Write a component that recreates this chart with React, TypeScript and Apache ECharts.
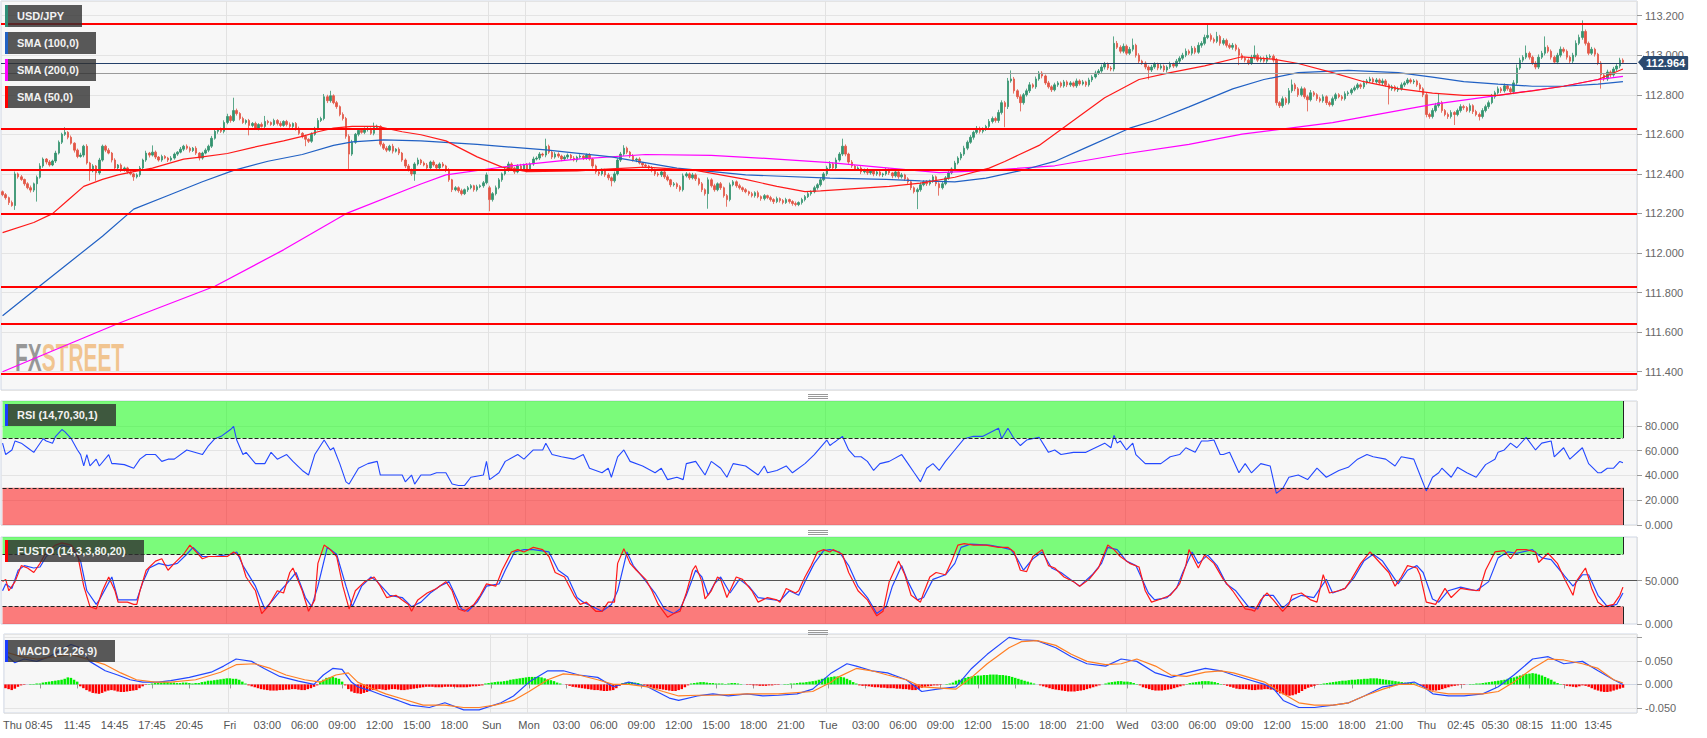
import React, { useEffect, useRef } from "react";
import * as echarts from "echarts";

// ================= DATA =================
// 15-minute candles, prices stored as 0.001 JPY above 112.000
const SLOT_COUNT = 524;
const PRICE_BASE = 112;
const FIRST_OPEN = 310;
const GAP_OPENS = [[156, 330]]; // Sunday re-open
const CLOSES = [
  295,280,255,240,400,385,372,350,330,318,350,383,440,475,460,445,465,505,560,600,
  610,585,555,520,488,495,540,455,415,440,405,470,540,520,505,470,430,445,420,430,
  410,400,385,395,430,470,505,495,510,485,470,488,480,470,480,500,510,525,540,530,
  518,530,505,480,505,520,540,580,615,625,615,660,690,670,720,705,680,660,670,645,
  655,630,650,640,665,660,650,670,655,645,665,650,640,655,630,605,590,575,565,600,
  630,670,680,790,770,795,760,740,700,680,590,500,560,600,620,610,625,630,605,635,
  640,550,530,520,540,515,525,505,470,440,420,400,450,470,455,445,430,460,445,430,
  450,440,420,370,320,330,315,300,320,330,340,320,335,340,355,395,270,300,330,370,
  400,420,450,430,410,440,425,445,420,450,475,480,500,495,540,510,485,500,490,475,
  485,495,480,470,485,490,480,495,475,440,410,400,420,395,380,365,400,470,500,530,
  510,490,470,475,455,445,440,430,420,400,395,410,385,370,345,350,335,320,390,400,
  380,395,375,350,320,300,370,340,320,350,330,290,270,345,360,340,330,320,310,300,
  290,305,285,275,290,280,270,260,275,265,255,270,260,250,245,255,270,285,300,310,
  330,345,370,400,430,450,430,470,500,540,500,460,440,425,430,410,420,405,415,400,
  410,395,400,420,405,390,410,385,395,375,360,330,310,320,345,360,350,365,385,350,
  330,350,380,405,425,455,480,500,530,560,585,610,630,615,625,640,665,680,670,710,
  760,740,870,880,820,790,760,800,820,850,840,880,910,895,860,840,825,850,860,845,
  865,850,860,845,870,855,865,850,875,890,910,920,940,955,935,930,1060,1040,1020,1045,
  1010,1030,1050,1000,970,960,940,925,940,955,935,945,925,940,955,945,970,985,1000,1020,
  1010,1035,1015,1050,1060,1090,1100,1080,1070,1095,1060,1075,1050,1040,1050,1030,1000,985,975,960,
  990,1000,975,985,970,990,995,975,760,745,780,760,820,850,830,800,830,790,775,810,
  800,780,770,790,760,750,780,800,790,780,805,810,825,835,850,840,860,870,880,865,
  875,860,870,850,830,840,825,830,850,860,875,865,870,850,830,800,700,690,720,745,
  760,720,700,690,710,700,720,740,735,720,745,715,700,690,720,740,760,790,810,830,
  820,845,830,815,860,935,975,990,1010,990,960,940,990,1010,1040,1020,990,965,1000,1030,
  1020,990,970,1000,1060,1090,1120,1060,1010,1030,1005,960,900,880,915,900,930,945,975,964,
];
const WICK_HI = [
  6,8,5,10,12,7,9,4,8,11,6,9,14,8,5,10,7,12,9,8,
  26,6,9,5,8,12,7,10,6,9,5,11,8,7,10,6,9,5,8,7,
  6,9,5,8,10,7,12,6,34,8,5,9,7,6,10,8,5,11,7,9,
  8,6,10,5,7,9,8,12,10,7,9,11,14,8,65,10,7,9,6,8,
  7,9,6,10,28,8,5,9,7,11,6,8,10,5,7,9,6,8,5,10,
  8,12,9,14,10,25,7,9,6,11,8,10,12,7,9,6,10,8,5,24,
  9,6,8,10,7,12,5,9,6,8,10,7,9,12,6,8,10,7,9,5,
  8,10,6,9,5,8,7,10,6,9,8,5,10,7,9,12,10,8,11,9,
  7,10,12,8,6,9,11,7,10,8,12,9,10,7,38,8,6,10,9,7,
  9,8,6,10,7,9,5,8,10,6,7,9,8,6,10,7,12,9,11,15,
  8,6,10,7,9,5,8,6,10,7,9,8,6,10,5,9,7,8,12,9,
  7,10,8,6,9,7,12,8,10,7,9,6,8,11,9,7,10,6,8,5,
  9,7,10,6,8,5,9,7,10,6,8,9,5,7,10,6,9,8,11,7,
  10,8,12,9,11,14,8,12,10,38,9,7,10,6,8,9,7,10,6,8,
  7,9,6,10,8,5,9,7,10,6,8,9,7,10,12,8,9,6,10,7,
  8,10,9,12,8,11,9,10,12,9,11,8,12,9,10,8,12,10,9,14,
  12,9,15,43,10,8,12,9,11,14,8,12,10,9,7,10,8,11,9,7,
  10,8,9,7,12,8,10,6,11,9,12,10,13,11,8,10,35,12,10,14,
  9,12,34,8,10,7,9,8,11,9,7,10,8,9,12,8,11,10,12,14,
  9,12,10,15,11,14,53,10,9,23,8,11,9,10,12,8,9,10,7,9,
  12,49,9,10,8,12,10,9,11,8,12,9,14,27,10,9,12,8,10,14,
  9,8,10,12,7,9,11,10,8,9,12,10,9,11,10,8,12,10,11,8,
  10,8,12,9,7,10,8,11,12,9,10,8,9,7,10,8,11,9,12,14,
  48,9,8,10,12,7,10,12,9,8,11,7,9,10,12,10,11,14,10,12,
  9,12,8,10,14,18,12,10,39,9,8,10,14,12,55,10,9,8,12,14,
  10,9,8,12,15,14,56,10,9,12,8,7,10,9,12,8,11,10,12,9,
];
const WICK_LO = [
  8,10,12,6,22,9,7,10,8,12,10,90,7,9,12,8,6,10,7,9,
  8,10,7,12,9,6,11,8,50,7,40,9,8,10,6,12,9,7,10,8,
  9,7,20,8,10,6,9,12,7,10,8,9,6,10,7,8,9,6,10,8,
  10,7,9,12,8,6,10,9,7,12,8,10,9,11,8,10,9,7,10,50,
  9,8,10,6,9,11,7,8,10,9,7,10,8,9,11,8,10,35,9,8,
  7,10,8,9,12,10,8,11,9,10,12,75,9,8,10,7,9,11,8,10,
  8,11,9,10,8,12,7,10,9,11,8,10,35,8,10,7,9,12,8,10,
  9,8,11,10,12,8,10,9,7,11,8,10,9,7,10,8,59,10,9,8,
  10,8,9,11,10,7,9,10,12,8,9,7,10,8,11,9,10,8,9,11,
  8,10,9,7,11,8,10,9,8,12,10,11,9,10,12,28,9,8,10,9,
  10,9,8,11,7,10,9,8,12,10,9,11,10,8,12,9,11,10,9,8,
  10,8,11,9,12,10,76,9,10,8,11,10,36,9,8,10,9,11,8,10,
  9,10,8,11,9,8,10,12,8,10,9,7,10,11,9,8,10,9,7,10,
  8,10,9,7,10,8,12,9,8,10,11,9,10,8,9,11,8,10,9,12,
  10,8,11,9,10,12,8,10,9,11,10,12,9,88,10,8,11,9,10,12,
  40,9,8,10,7,9,8,11,9,10,8,12,9,11,10,8,9,10,11,12,
  10,104,12,9,14,11,44,10,9,11,8,10,9,12,10,9,11,8,10,9,
  9,11,10,8,10,9,8,10,9,11,8,10,9,12,10,11,12,9,11,10,
  10,9,11,12,10,9,11,48,10,9,11,8,10,12,9,10,8,11,9,10,
  9,11,10,8,12,10,9,11,10,9,12,10,11,9,12,10,50,9,11,10,
  9,12,10,11,8,10,9,12,14,12,10,11,9,10,12,11,9,10,59,9,
  10,11,9,10,12,10,9,11,8,10,9,11,10,8,9,11,10,8,9,10,
  9,10,11,9,79,10,8,11,9,10,8,9,11,10,9,12,14,11,10,9,
  10,11,9,12,10,53,9,10,11,8,10,12,9,20,10,9,11,8,10,9,
  11,9,10,8,12,10,9,11,10,12,9,11,10,9,11,10,12,9,10,11,
  10,12,9,11,10,9,12,11,10,9,12,10,69,11,10,12,9,10,11,8,
];

// Moving averages, [candle index, price]
const SMA50 = [[0,112.103],[10,112.154],[16,112.199],[21,112.268],[26,112.337],[32,112.372],[37,112.395],[42,112.411],[48,112.429],[53,112.452],[58,112.475],[64,112.486],[72,112.503],[80,112.533],[90,112.567],[96,112.59],[101,112.613],[106,112.631],[112,112.64],[120,112.64],[128,112.613],[134,112.598],[142,112.567],[152,112.486],[160,112.434],[168,112.411],[184,112.415],[195,112.425],[206,112.434],[222,112.418],[238,112.372],[248,112.337],[257,112.31],[262,112.314],[273,112.326],[284,112.337],[294,112.353],[305,112.383],[316,112.429],[321,112.463],[332,112.544],[342,112.659],[353,112.785],[364,112.877],[374,112.912],[385,112.946],[397,112.992],[407,112.98],[415,112.958],[426,112.912],[436,112.866],[447,112.831],[458,112.808],[468,112.797],[479,112.797],[490,112.82],[500,112.843],[511,112.877],[519,112.93]];
const SMA100 = [[0,111.683],[10,111.809],[21,111.947],[32,112.085],[42,112.222],[53,112.291],[64,112.36],[74,112.418],[85,112.464],[96,112.498],[106,112.544],[112,112.562],[122,112.572],[134,112.567],[152,112.549],[174,112.521],[195,112.486],[216,112.429],[238,112.395],[265,112.379],[283,112.372],[294,112.365],[305,112.36],[315,112.379],[326,112.416],[337,112.463],[347,112.533],[361,112.631],[369,112.67],[380,112.739],[394,112.83],[404,112.877],[415,112.912],[431,112.923],[447,112.912],[458,112.889],[468,112.866],[479,112.854],[490,112.843],[500,112.843],[511,112.854],[519,112.866]];
const SMA200 = [[0,111.4],[37,111.644],[68,111.832],[90,112.016],[110,112.199],[134,112.349],[142,112.395],[163,112.441],[184,112.475],[206,112.498],[227,112.494],[248,112.475],[265,112.457],[284,112.429],[300,112.406],[316,112.418],[337,112.441],[358,112.498],[380,112.549],[397,112.601],[426,112.659],[458,112.751],[479,112.797],[500,112.843],[511,112.877],[519,112.893]];

const LEVELS = [113.16, 112.632, 112.416, 112.2, 111.828, 111.642, 111.39];
const PREV_CLOSE = 112.905;

// RSI (14), [index, value]
const RSI = [[0,66],[1,56.8],[3,60.5],[4,67.8],[6,66],[8,62.3],[10,58.6],[11,62.3],[13,69.6],[14,67.8],[16,66],[17,71.5],[19,77],[20,75.1],[22,69.6],[24,60.5],[25,56.8],[26,47.6],[27,56.8],[28,47.6],[30,53.1],[31,47.6],[34,56.8],[35,49.5],[36,49.5],[39,48.7],[42,45.8],[44,53.1],[46,56.8],[49,56.8],[51,51.3],[53,53.1],[55,53.1],[59,60.5],[64,56.8],[66,64.1],[68,69.6],[70,71.5],[73,77],[74,79.5],[75,68.5],[77,56.8],[78,58.6],[81,49.5],[84,49.5],[86,58.6],[88,53.1],[91,56.8],[93,51.3],[96,44],[98,40.3],[100,56.8],[103,68.5],[105,60.5],[106,62.3],[108,49.5],[110,34.8],[111,33],[114,45.8],[117,49.5],[120,51.3],[121,40.3],[123,40.3],[128,40.3],[129,34.8],[131,40.3],[132,33],[134,40.3],[137,40.3],[139,42.1],[142,42.1],[144,33],[146,31.9],[148,31.9],[150,38.5],[154,40.3],[155,51.3],[156,36.6],[159,42.1],[161,51.3],[165,56.8],[167,53.1],[170,60.5],[173,60.5],[174,66],[176,56.8],[179,55],[183,53.1],[186,56.8],[188,45.8],[192,42.1],[194,45.8],[195,38.5],[197,55],[199,60.5],[201,51.3],[205,47.6],[209,42.1],[211,45.8],[213,36.6],[216,38.5],[218,36.6],[219,49.5],[222,51.3],[225,40.3],[227,51.3],[230,45.8],[232,38.5],[234,49.5],[238,47.6],[242,40.3],[244,47.6],[245,42.1],[248,44],[251,47.6],[253,42.1],[257,49.5],[260,56.8],[264,68.5],[265,64.1],[266,66],[267,67.8],[269,71.5],[271,60.5],[273,55],[275,55],[277,51.3],[279,44],[281,49.5],[284,51.3],[288,56.8],[290,49.5],[292,42.1],[294,34.8],[296,45.8],[298,49.5],[300,44],[302,51.3],[305,60.5],[308,69.6],[311,71.5],[314,71.5],[319,78.1],[320,69.6],[322,78.1],[324,69.6],[326,64.1],[328,68.5],[332,70.7],[335,58.6],[337,60.5],[339,56.8],[343,58.6],[347,58.6],[353,66],[355,62.3],[356,72.2],[357,66],[358,67.8],[360,60.5],[362,66],[363,56.8],[366,49.5],[371,49.5],[374,55],[377,56.8],[379,62.3],[382,58.6],[384,67.8],[386,67.8],[388,68.5],[390,56.8],[391,56.8],[393,58.6],[396,42.1],[398,49.5],[400,42.1],[403,49.5],[406,47.6],[408,25.6],[410,29.3],[412,38.5],[415,40.3],[418,36.6],[421,45.8],[424,38.5],[428,44],[431,46.5],[434,53.1],[437,56.8],[439,55],[443,53.1],[446,47.6],[448,55],[452,53.1],[454,40.3],[456,27.5],[458,38.5],[460,42.1],[461,45.8],[464,38.5],[466,46.5],[469,42.1],[472,38.5],[475,48.7],[478,53.1],[479,58.6],[481,60.5],[483,66],[485,62.3],[488,70.7],[491,60.5],[493,66],[496,67.8],[497,55],[500,62.3],[502,53.1],[506,62.3],[508,49.5],[511,42.1],[512,42.1],[514,45.8],[516,45.8],[518,51.3],[519,50.2]];

// Full stochastic: %K (red) and %D (blue)
const STOCH_K = [[0,48.7],[1,51.3],[2,38.2],[4,48.7],[6,67.1],[8,64.4],[10,59.2],[12,69.7],[14,82.8],[17,90.7],[19,93.3],[22,90.7],[24,80.2],[26,43.5],[28,19.9],[30,17.3],[32,38.2],[34,54],[36,38.2],[37,25.1],[40,25.1],[42,22.5],[43,22.5],[44,38.2],[46,61.8],[49,72.3],[51,75],[53,61.8],[55,69.7],[58,80.2],[60,90.7],[62,82.8],[64,75],[66,77.6],[69,77.6],[72,77.6],[74,82.8],[76,77.6],[78,54],[81,38.2],[83,12],[85,19.9],[88,38.2],[90,35.6],[92,59.2],[93,64.4],[96,38.2],[98,14.6],[100,27.7],[101,69.7],[103,90.7],[105,85.5],[107,77.6],[109,43.5],[111,17.3],[113,38.2],[116,48.7],[119,54],[121,43.5],[123,30.4],[126,33],[128,27.7],[130,22.5],[131,14.6],[133,27.7],[136,35.6],[139,40.9],[142,48.7],[144,38.2],[146,17.3],[148,14.6],[151,22.5],[153,33],[155,46.1],[158,43.5],[160,61.8],[163,82.8],[165,85.5],[167,82.8],[170,88.1],[173,85.5],[175,77.6],[177,59.2],[180,54],[183,33],[185,22.5],[187,25.1],[190,14.6],[192,14.6],[194,25.1],[196,25.1],[197,69.7],[199,86.5],[201,69.7],[203,61.8],[206,51.3],[208,38.2],[210,22.5],[213,7.8],[215,12],[217,14.6],[219,35.6],[221,61.8],[222,67.1],[224,48.7],[225,28.8],[227,38.2],[229,54],[230,51.3],[232,30.4],[235,54],[237,51.3],[240,38.2],[242,25.1],[245,30.4],[248,27.7],[249,25.1],[251,40.9],[254,35.6],[255,38.2],[257,54],[259,67.1],[261,82.8],[263,85.5],[265,82.8],[266,85.5],[269,80.2],[271,59.2],[274,38.2],[277,27.7],[280,9.4],[282,14.6],[284,48.7],[287,72.3],[289,56.6],[291,33],[294,25.1],[295,35.6],[297,54],[299,59.2],[302,56.6],[304,72.3],[306,90.7],[308,92.3],[311,90.7],[315,90.7],[319,88.1],[322,88.1],[324,82.8],[326,61.8],[328,60.2],[330,77.6],[333,85.5],[335,67.1],[337,64.4],[340,54],[343,48.7],[345,43.5],[348,51.3],[351,64.4],[354,90.7],[356,85.5],[358,77.6],[361,69.7],[364,65.5],[366,38.2],[368,25.1],[371,28.8],[374,33],[377,46.1],[379,67.1],[380,85.5],[383,64.4],[385,79.2],[388,69.7],[391,51.3],[394,38.2],[398,17.3],[400,16.2],[401,14.6],[403,27.7],[405,35.6],[407,27.7],[410,14.6],[412,22.5],[413,33],[416,35.6],[419,27.7],[421,25.1],[423,56.6],[425,35.6],[428,38.2],[430,40.9],[432,51.3],[435,69.7],[438,82.8],[440,75],[444,59.2],[446,43.5],[448,54],[450,67.1],[453,64.4],[454,56.6],[456,25.1],[459,22.5],[462,40.9],[464,30.4],[467,40.9],[470,39.3],[473,38.2],[475,61.8],[478,82.8],[481,84.4],[483,75],[485,85.5],[488,85.5],[491,82.8],[492,70.7],[495,81.3],[498,69.7],[500,54],[503,33],[504,48.7],[507,64.4],[509,40.9],[511,25.1],[513,19.9],[516,22.5],[518,33],[519,42.4]];
const STOCH_D = [[0,38.2],[1,46.1],[3,40.9],[5,61.8],[7,67.1],[10,64.4],[12,65.5],[14,77.6],[17,85.5],[19,90.7],[22,88.1],[25,72.3],[27,38.2],[30,22.5],[31,27.7],[35,54],[37,27.7],[40,27.7],[43,27.7],[45,48.7],[47,64.4],[50,69.7],[53,67.1],[56,69.7],[59,80.2],[61,88.1],[64,77.6],[68,77.6],[73,80.2],[75,82.8],[77,67.1],[81,43.5],[84,17.3],[86,25.1],[89,38.2],[91,46.1],[94,59.2],[97,30.4],[99,19.9],[101,43.5],[104,88.1],[107,80.2],[110,43.5],[112,19.9],[115,43.5],[118,54],[120,48.7],[124,33],[128,30.4],[131,19.9],[134,25.1],[137,35.6],[140,43.5],[143,48.7],[145,33],[147,17.3],[149,14.6],[152,25.1],[155,43.5],[159,46.1],[161,61.8],[164,82.8],[167,85.5],[170,85.5],[175,82.8],[178,61.8],[181,54],[184,30.4],[186,25.1],[189,19.9],[192,14.6],[195,22.5],[197,38.2],[200,82.8],[202,67.1],[205,54],[209,35.6],[212,17.3],[215,12],[217,17.3],[219,33],[222,61.8],[224,54],[226,33],[228,46.1],[230,54],[233,35.6],[236,51.3],[239,43.5],[242,30.4],[245,28.8],[249,26.7],[252,38.2],[255,33],[257,48.7],[260,69.7],[263,84.4],[265,85.5],[268,82.8],[271,67.1],[274,43.5],[277,30.4],[280,12],[283,19.9],[285,43.5],[288,67.1],[290,48.7],[293,27.7],[295,30.4],[298,51.3],[302,56.6],[305,69.7],[307,88.1],[310,91.8],[316,90.7],[320,88.1],[323,85.5],[325,75],[327,61.8],[330,75],[333,82.8],[336,64.4],[339,59.2],[343,48.7],[345,43.5],[349,56.6],[352,69.7],[354,88.1],[357,85.5],[360,72.3],[363,67.1],[367,35.6],[369,27.7],[373,30.4],[376,40.9],[378,59.2],[381,82.8],[383,69.7],[386,79.2],[389,67.1],[392,46.1],[395,38.2],[399,19.9],[402,17.3],[404,33],[407,33],[410,18.3],[413,27.7],[416,33],[420,30.4],[422,40.9],[424,51.3],[426,35.6],[430,40.9],[433,54],[436,72.3],[439,80.2],[442,72.3],[446,51.3],[447,46.1],[450,61.8],[453,67.1],[455,59.2],[458,28.8],[460,25.1],[463,38.2],[467,42.4],[472,38.2],[476,48.7],[479,76],[482,82.8],[485,81.3],[490,85.5],[493,76],[496,73.9],[500,56.6],[503,43.5],[506,56.6],[508,56.6],[511,33],[514,19.9],[517,22.5],[519,35.6]];

// MACD (12,26,9)
const MACD_LINE = [[0,0.064],[3,0.046],[6,0.054],[10,0.049],[14,0.059],[18,0.074],[21,0.085],[24,0.078],[27,0.049],[32,0.029],[36,0.02],[40,0.01],[44,0.005],[49,0.005],[53,0.008],[59,0.015],[66,0.026],[70,0.039],[74,0.054],[79,0.049],[83,0.034],[88,0.017],[94,0.007],[99,0],[102,0.02],[105,0.034],[108,0.032],[111,0.005],[113,-0.005],[117,-0.013],[121,-0.023],[126,-0.034],[130,-0.044],[136,-0.049],[141,-0.039],[147,-0.054],[152,-0.054],[159,-0.039],[163,-0.0245],[168,0.005],[174,0.029],[179,0.029],[184,0.02],[190,0.015],[195,-0.005],[200,0.005],[206,-0.005],[213,-0.029],[216,-0.034],[222,-0.0245],[227,-0.02],[232,-0.0245],[238,-0.02],[243,-0.0245],[248,-0.023],[254,-0.02],[259,-0.01],[265,0.0245],[270,0.044],[273,0.039],[278,0.029],[283,0.0245],[289,0.01],[294,-0.015],[299,-0.01],[305,-0.005],[310,0.034],[315,0.064],[322,0.1],[326,0.095],[331,0.093],[337,0.078],[342,0.059],[347,0.044],[353,0.039],[358,0.054],[363,0.049],[369,0.0245],[374,0.015],[379,0.0245],[385,0.034],[390,0.029],[394,0.02],[399,0.01],[404,0],[407,-0.01],[410,-0.034],[415,-0.049],[420,-0.049],[426,-0.044],[431,-0.039],[436,-0.0245],[442,-0.005],[447,0],[452,0.005],[455,-0.005],[458,-0.02],[463,-0.0245],[468,-0.0245],[474,-0.02],[479,-0.005],[484,0.02],[490,0.054],[495,0.059],[500,0.044],[506,0.049],[511,0.029],[516,0.01],[519,0]];
const MACD_SIGNAL = [[0,0.069],[5,0.059],[10,0.054],[16,0.059],[21,0.064],[26,0.054],[32,0.042],[37,0.0245],[42,0.01],[48,0.005],[53,0.005],[61,0.01],[69,0.026],[74,0.042],[80,0.044],[85,0.034],[90,0.02],[96,0.01],[101,0.005],[106,0.02],[110,0.0245],[113,0.005],[117,-0.007],[122,-0.02],[128,-0.032],[134,-0.044],[141,-0.044],[147,-0.049],[152,-0.049],[157,-0.044],[163,-0.034],[168,-0.015],[174,0.01],[179,0.0225],[184,0.02],[190,0.01],[195,0],[200,0],[206,-0.005],[211,-0.015],[216,-0.0245],[222,-0.023],[227,-0.023],[238,-0.02],[248,-0.02],[259,-0.015],[265,0.005],[267,0.015],[273,0.034],[278,0.029],[283,0.02],[289,0.01],[294,-0.005],[305,-0.01],[310,0.015],[315,0.044],[322,0.078],[326,0.091],[331,0.093],[337,0.083],[342,0.064],[347,0.049],[353,0.042],[358,0.044],[363,0.054],[369,0.039],[374,0.02],[379,0.017],[385,0.026],[390,0.029],[394,0.0245],[399,0.015],[404,0.005],[410,-0.02],[415,-0.039],[420,-0.044],[426,-0.044],[431,-0.039],[436,-0.0245],[442,-0.01],[447,0],[452,0],[458,-0.015],[463,-0.02],[468,-0.02],[474,-0.02],[479,-0.015],[484,0.005],[490,0.034],[495,0.054],[500,0.052],[506,0.044],[511,0.034],[516,0.01],[519,0.003]];
// histogram, 0.001 units, one value per candle
const MACD_HIST = [
  -8,-10,-12,-9,-5, -2,-1,0,1,1,2,2, 4,5,6,7,8,9,10,12,15,14,10,6,
  -4,-8,-12,-15,-18,-19,-20,-18,-15,-13,-12,-13,-15,-16,-16,-15,-14,-13,-12,-8,-4,
  -1,1,2,3,4,4,5,5,4,4,3,3,4,4,3,2,3,
  3,5,6,8,8,9,10,11,12,13,13,12,12,10,6,2,-2,
  -4,-6,-8,-10,-11,-12,-13,-13,-13,-12,-12,-11,-11,-10,-10,-11,-12,-12,-10,-8,-5,-2,
  6,10,14,15,16,14,12,6,-2,
  -10,-15,-18,-19,-20,-18,-16,-14,-12,-11,-10,-11,-12,-11,-10,-10,-11,-12,-12,-11,-10,-9,-8,-7,-6,
  -5,-5,-5,-6,-6,-6,-5,-5,-5,-5,-6,-6,-6,-6,-5,-4,-4,-3,-2,
  2,3,4,5,6,6,7,
  8,10,11,12,13,14,15,16,16,16,16,15,13,11,9,7,4,
  2,0,-1,
  -3,-5,-6,-7,-8,-9,-10,-11,-12,-12,-13,-14,-14,-13,-12,-8,-3,
  3,4,5,5,4,3,1,
  -2,-4,-6,-8,-9,-10,-11,-12,-13,-14,-14,-12,-10,-6,-2,
  2,3,4,5,5,4,3,3,2,2,2,1,2,3,3,2,1,0,-1,-1,-2,
  -2,-3,-3,-3,-2,-2,-1,-1,0,1,
  1,2,2,3,4,4,5,6,7,8,10,12,14,15,16,
  17,17,16,15,12,9,5,2,
  -2,-3,-3,-4,-5,-6,-6,-7,-7,-8,-8,-8,-9,-9,-10,-10,-11,-12,-12,-10,
  -7,-5,-4,-3,-2,-2,-1,0,1,2,4,
  8,10,12,14,16,17,18,19,19,20,20,21,21,21,20,20,19,18,16,14,12,10,8,6,4,2,
  0,-2,-4,
  -6,-8,-10,-11,-12,-13,-14,-15,-15,-15,-14,-13,-12,-10,-8,-6,-4,-2,0,2,
  4,5,6,7,7,6,6,5,3,1,-2,
  -6,-8,-10,-12,-13,-13,-13,-12,-11,-10,-8,-6,-4,-2,1,
  3,4,5,6,7,7,7,6,5,3,1,-1,
  -3,-5,-7,-9,-10,-10,-10,-11,-12,-12,-11,-11,-10,-10,-11,-12,
  -16,-19,-21,-23,-24,-23,-21,-18,-14,-10,-7,-5,-3,-1,
  1,2,3,4,5,6,7,8,8,9,10,10,11,11,12,12,13,13,13,12,11,10,9,8,7,6,5,4,4,3,2,1,
  -2,-5,-9,-12,-13,-13,-12,-10,-8,-6,-4,-3,
  -2,-1,-1,0,1,1,2,2,
  3,4,5,6,7,8,9,10,12,14,15,17,19,21,22,23,24,23,21,19,16,13,10,6,
  3,1,-1,-3,-4,-5,-6,-4,-2,-3,-5,-8,-11,-13,-15,-16,-16,-15,-13,-11,-9,-7,
];

// time axis
const TICK_IDX = [11,23,35,47,59,72,84,96,108,120,132,144,156,168,180,192,204,216,228,240,252,264,276,288,300,312,324,336,348,360,372,384,396,408,420,432,444,456,467,478,489,500,511];
const TICK_TXT = ["Thu 08:45","11:45","14:45","17:45","20:45","Fri","03:00","06:00","09:00","12:00","15:00","18:00","Sun","Mon","03:00","06:00","09:00","12:00","15:00","18:00","21:00","Tue","03:00","06:00","09:00","12:00","15:00","18:00","21:00","Wed","03:00","06:00","09:00","12:00","15:00","18:00","21:00","Thu","02:45","05:30","08:15","11:00","13:45"];
const DAY_IDX = [72,156,168,264,360,456];

const PANEL_TITLES = [
  { text: "USD/JPY", stripe: "#2f8f78" },
  { text: "SMA (100,0)", stripe: "#2161c4" },
  { text: "SMA (200,0)", stripe: "#ff00ff" },
  { text: "SMA (50,0)", stripe: "#ff0000" },
  { text: "RSI (14,70,30,1)", stripe: "#1a3cff" },
  { text: "FUSTO (14,3,3,80,20)", stripe: "#ff0000" },
  { text: "MACD (12,26,9)", stripe: "#1a3cff" },
];

// ================= CHART =================
const FONT = '"Liberation Sans", Arial, sans-serif';
const UP = "#33936f";
const DOWN = "#e25545";

export default function App() {
  const ref = useRef<HTMLDivElement>(null);

  useEffect(() => {
    document.body.style.margin = "0";
    if (!ref.current) return;
    const chart = echarts.init(ref.current, undefined, { renderer: "svg" });

    const gapMap = new Map(GAP_OPENS.map((g) => [g[0], g[1]]));
    const candles = CLOSES.map((c, i) => {
      const o = gapMap.has(i) ? (gapMap.get(i) as number) : i === 0 ? FIRST_OPEN : CLOSES[i - 1];
      const hi = Math.max(o, c) + WICK_HI[i];
      const lo = Math.min(o, c) - WICK_LO[i];
      return [PRICE_BASE + o / 1000, PRICE_BASE + c / 1000, PRICE_BASE + lo / 1000, PRICE_BASE + hi / 1000];
    });
    const lastIdx = CLOSES.length - 1;
    const lastPrice = +(PRICE_BASE + CLOSES[lastIdx] / 1000).toFixed(3);

    const cats = Array.from({ length: SLOT_COUNT }, (_, i) => String(i));
    const tickSet = new Set(TICK_IDX);
    const daySet = new Set(DAY_IDX);
    const labelMap = new Map(TICK_IDX.map((k, j) => [k, TICK_TXT[j]]));

    const xAxis = (gridIndex: number, labels: boolean) => ({
      type: "category",
      gridIndex,
      data: cats,
      boundaryGap: true,
      axisLine: { show: labels, lineStyle: { color: "#cfd6e4" } },
      axisTick: {
        show: labels,
        alignWithLabel: true,
        interval: (i: number) => tickSet.has(i),
        length: 4,
        lineStyle: { color: "#999" },
      },
      axisLabel: {
        show: labels,
        showMinLabel: true,
        showMaxLabel: true,
        interval: (i: number) => tickSet.has(i),
        formatter: (_v: string, i: number) => {
          const t = labelMap.get(i) ?? "";
          return i === TICK_IDX[0] ? `{first|${t}}` : t;
        },
        rich: { first: { padding: [0, 24, 0, 0], color: "#555", fontSize: 11, fontFamily: FONT } },
        color: "#555",
        fontSize: 11,
        fontFamily: FONT,
        margin: 6,
      },
      splitLine: {
        show: true,
        interval: (i: number) => daySet.has(i),
        lineStyle: { color: "#e2e2e2", width: 1 },
      },
    });

    const yBase = (gridIndex: number, showMin: boolean) => ({
      type: "value",
      gridIndex,
      position: "right",
      axisLine: { show: false },
      axisTick: { show: true, length: 5, lineStyle: { color: "#999" } },
      axisLabel: {
        color: "#666",
        fontSize: 11,
        fontFamily: FONT,
        margin: 8,
        showMinLabel: showMin,
        showMaxLabel: false,
        formatter: (v: number) => v.toFixed(3),
      },
      splitLine: { show: true, lineStyle: { color: "#e4e4e4" } },
    });

    const gridStyle = { show: true, backgroundColor: "#f7f7f7", borderColor: "#cfd6e4", borderWidth: 1 };
    const lastX = lastIdx;
    const zoneLines = (hi: number, lo: number) => [
      [{ coord: [0, hi] }, { coord: [lastX, hi] }],
      [{ coord: [0, lo] }, { coord: [lastX, lo] }],
      [{ coord: [lastX, hi], lineStyle: { type: "solid" } }, { coord: [lastX, 100] }],
      [{ coord: [lastX, 0], lineStyle: { type: "solid" } }, { coord: [lastX, lo] }],
    ];
    const zoneAreas = (hi: number, lo: number) => [
      [{ coord: [0, hi], itemStyle: { color: "rgba(0,255,0,0.5)" } }, { coord: [lastX, 100] }],
      [{ coord: [0, 0], itemStyle: { color: "rgba(255,0,0,0.5)" } }, { coord: [lastX, lo] }],
    ];

    // panel title boxes
    const titleY = [5, 32, 59, 86, 404, 540, 640];
    const titleW = [77, 91, 91, 85, 111, 139, 110];
    const graphics: any[] = [];
    PANEL_TITLES.forEach((t, k) => {
      graphics.push({ id: "tb" + k, type: "rect", z: 100, shape: { x: 5, y: titleY[k], width: titleW[k], height: 22 }, style: { fill: "rgba(48,48,48,0.8)" } });
      graphics.push({ id: "ts" + k, type: "rect", z: 101, shape: { x: 5, y: titleY[k], width: 3, height: 22 }, style: { fill: t.stripe } });
      graphics.push({ id: "tt" + k, type: "text", z: 101, x: 17, y: titleY[k] + 11, style: { text: t.text, fill: "#f2f2f2", font: `bold 11px ${FONT}`, verticalAlign: "middle" } });
    });
    // panel resize handles
    [394, 530, 630].forEach((hy, k) => {
      [0, 2, 4].forEach((dy, m) => {
        graphics.push({ id: `h${k}_${m}`, type: "line", z: 50, shape: { x1: 808, y1: hy + dy + 0.5, x2: 828, y2: hy + dy + 0.5 }, style: { stroke: "#999", lineWidth: 1 } });
      });
    });
    // watermark
    graphics.push({
      id: "wm",
      type: "text",
      z: 1,
      x: 15,
      y: 357,
      scaleX: 0.55,
      style: {
        text: "{a|FX}{b|STREET}",
        verticalAlign: "middle",
        rich: {
          a: { fill: "rgba(120,120,120,0.75)", font: `bold 38px ${FONT}` },
          b: { fill: "rgba(240,180,110,0.75)", font: `bold 38px ${FONT}` },
        },
      },
    });

    const option: any = {
      animation: false,
      textStyle: { fontFamily: FONT },
      grid: [
        { left: 1, top: 1, width: 1636, height: 389, ...gridStyle },
        { left: 1, top: 401, width: 1636, height: 124, ...gridStyle },
        { left: 1, top: 537, width: 1636, height: 87, ...gridStyle },
        { left: 1, top: 634, width: 1636, height: 79, ...gridStyle },
      ],
      xAxis: [xAxis(0, false), xAxis(1, false), xAxis(2, false), xAxis(3, true)],
      yAxis: [
        { ...yBase(0, false), min: 111.3075, max: 113.274, splitNumber: 10 },
        { ...yBase(1, true), min: 0, max: 100, interval: 20 },
        { ...yBase(2, true), min: 0, max: 100, interval: 50, splitLine: { show: false } },
        {
          ...yBase(3, false),
          min: -0.0607,
          max: 0.1072,
          splitNumber: 3,
          axisLabel: { ...yBase(3, false).axisLabel, formatter: (v: number) => (v > 0.09 ? "" : v.toFixed(3)) },
        },
      ],
      graphic: { elements: graphics },
      series: [
        {
          name: "USD/JPY",
          type: "candlestick",
          xAxisIndex: 0,
          yAxisIndex: 0,
          data: candles,
          barWidth: 2,
          itemStyle: { color: UP, color0: DOWN, borderColor: UP, borderColor0: DOWN, borderWidth: 0.8 },
          markLine: {
            silent: true,
            symbol: ["none", "none"],
            label: { show: false },
            data: [
              ...LEVELS.map((v) => ({ yAxis: v, lineStyle: { color: "#ff0000", width: 2, type: "solid" } })),
              { yAxis: PREV_CLOSE, lineStyle: { color: "#9a9a9a", width: 1, type: "solid" } },
              {
                yAxis: lastPrice,
                lineStyle: { color: "#24406a", width: 1, type: "solid" },
                label: {
                  show: true,
                  position: "end",
                  distance: 6,
                  formatter: lastPrice.toFixed(3),
                  backgroundColor: "#2b4a6f",
                  color: "#fff",
                  fontWeight: "bold",
                  fontSize: 11,
                  fontFamily: FONT,
                  padding: [2, 3, 1, 3],
                  borderRadius: 1,
                },
              },
            ],
          },
        },
        { name: "SMA 200", type: "line", xAxisIndex: 0, yAxisIndex: 0, data: SMA200, showSymbol: false, symbol: "none", lineStyle: { color: "#ff00ff", width: 1.2 } },
        { name: "SMA 100", type: "line", xAxisIndex: 0, yAxisIndex: 0, data: SMA100, showSymbol: false, symbol: "none", lineStyle: { color: "#2161c4", width: 1.2 } },
        { name: "SMA 50", type: "line", xAxisIndex: 0, yAxisIndex: 0, data: SMA50, showSymbol: false, symbol: "none", lineStyle: { color: "#ff1a1a", width: 1.2 } },
        { name: "RSI", type: "line", xAxisIndex: 1, yAxisIndex: 1, data: RSI, showSymbol: false, symbol: "none", lineStyle: { color: "#2348ff", width: 1.1 } },
        {
          name: "RSI zones",
          type: "line",
          xAxisIndex: 1,
          yAxisIndex: 1,
          data: [],
          z: 3,
          markArea: { silent: true, z: 3, data: zoneAreas(70, 30) },
          markLine: { silent: true, symbol: ["none", "none"], label: { show: false }, lineStyle: { color: "#222", width: 1, type: "dashed" }, data: zoneLines(70, 30) },
        },
        { name: "%D", type: "line", xAxisIndex: 2, yAxisIndex: 2, data: STOCH_D, showSymbol: false, symbol: "none", lineStyle: { color: "#2348ff", width: 1.2 } },
        {
          name: "%K",
          type: "line",
          xAxisIndex: 2,
          yAxisIndex: 2,
          data: STOCH_K,
          showSymbol: false,
          symbol: "none",
          lineStyle: { color: "#ff1a1a", width: 1.2 },
          markLine: { silent: true, symbol: ["none", "none"], label: { show: false }, lineStyle: { color: "#555", width: 1, type: "solid" }, data: [{ yAxis: 50 }] },
        },
        {
          name: "FUSTO zones",
          type: "line",
          xAxisIndex: 2,
          yAxisIndex: 2,
          data: [],
          z: 3,
          markArea: { silent: true, z: 3, data: zoneAreas(80, 20) },
          markLine: { silent: true, symbol: ["none", "none"], label: { show: false }, lineStyle: { color: "#222", width: 1, type: "dashed" }, data: zoneLines(80, 20) },
        },
        {
          name: "Histogram",
          type: "bar",
          xAxisIndex: 3,
          yAxisIndex: 3,
          data: MACD_HIST.map((v) => v / 1000),
          barWidth: 2.5,
          itemStyle: { color: (p: any) => (p.value >= 0 ? "#00ee00" : "#ff0000") },
        },
        { name: "MACD", type: "line", xAxisIndex: 3, yAxisIndex: 3, data: MACD_LINE, showSymbol: false, symbol: "none", lineStyle: { color: "#2348ff", width: 1.2 } },
        { name: "Signal", type: "line", xAxisIndex: 3, yAxisIndex: 3, data: MACD_SIGNAL, showSymbol: false, symbol: "none", lineStyle: { color: "#ff7f24", width: 1.2 } },
      ],
    };

    chart.setOption(option);

    // arrow for the price tag, placed through the axis scale
    const py = chart.convertToPixel({ yAxisIndex: 0 }, lastPrice) as number;
    const ax = 1637;
    chart.setOption({
      graphic: {
        elements: [
          { id: "tagArrow", type: "polygon", z: 100, shape: { points: [[ax + 1, py], [ax + 7, py - 7], [ax + 7, py + 7]] }, style: { fill: "#2b4a6f" } },
        ],
      },
    });

    return () => chart.dispose();
  }, []);

  return <div ref={ref} style={{ width: 1707, height: 738 }} />;
}
